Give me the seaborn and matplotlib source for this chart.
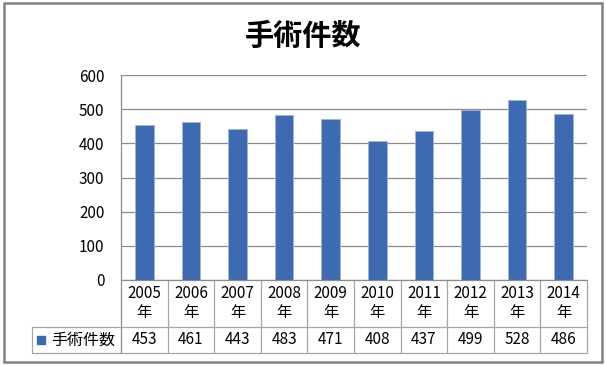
import matplotlib
matplotlib.use("Agg")
import matplotlib.pyplot as plt
import matplotlib.transforms as mtransforms
from matplotlib.patches import Rectangle
import seaborn as sns
import pandas as pd

title = "手術件数"
series_name = "手術件数"
years = ["2005", "2006", "2007", "2008", "2009", "2010", "2011", "2012", "2013", "2014"]
values = [453, 461, 443, 483, 471, 408, 437, 499, 528, 486]
yticks = [0, 100, 200, 300, 400, 500, 600]

sns.set_theme(style="white")
plt.rcParams['font.family'] = ['Noto Sans CJK JP', 'DejaVu Sans']

W, H = 606, 366
fig = plt.figure(figsize=(W / 100, H / 100), dpi=100)
L, R, T, B = 121, 587, 75, 280
ax = fig.add_axes([L / W, 1 - B / H, (R - L) / W, (B - T) / H])

df = pd.DataFrame({"year": [y + "年" for y in years], "count": values})
bar_color = "#3D6AB0"
sns.barplot(data=df, x="year", y="count", color=bar_color, width=0.4,
            saturation=1, ax=ax, edgecolor="#9DB6DA", linewidth=0.6)

ax.set_ylim(0, 600)
ax.set_xlim(-0.5, len(years) - 0.5)
ax.set_yticks(yticks)
ax.set_yticklabels([str(t) for t in yticks], fontsize=11, color="#000000")
ax.tick_params(axis="y", length=0, pad=12)
ax.set_xticks([])
ax.set_xlabel("")
ax.set_ylabel("")
grid_c = "#8C8C8C"
ax.yaxis.grid(True, color=grid_c, linewidth=0.9)
ax.set_axisbelow(True)
for s in ["top", "right", "bottom"]:
    ax.spines[s].set_visible(False)
ax.spines["left"].set_color(grid_c)
ax.spines["left"].set_linewidth(0.9)

# data table beneath the axis
px = 1.0 / (B - T)
y_row1 = -(327 - B) * px
y_row2 = -(353 - B) * px
y_head = -(303 - B) * px
y_val = -(340 - B) * px
blend = mtransforms.blended_transform_factory(ax.transData, ax.transAxes)
tab_c = "#A6A6A6"
n = len(years)
for k in range(n + 1):
    xb = k - 0.5
    ax.plot([xb, xb], [0, y_row2], transform=blend, color=tab_c if k > 0 else grid_c,
            lw=0.9, clip_on=False)
x_leg = (32 - L) / (R - L)
for yy in [y_row1, y_row2]:
    ax.plot([x_leg, 1], [yy, yy], transform=ax.transAxes, color=tab_c, lw=0.9, clip_on=False)
ax.plot([0, 1], [0, 0], transform=ax.transAxes, color=grid_c, lw=0.9, clip_on=False)
ax.plot([x_leg, x_leg], [y_row1, y_row2], transform=ax.transAxes, color=tab_c, lw=0.9, clip_on=False)

for i, (yr, v) in enumerate(zip(years, values)):
    ax.text(i, y_head, yr + "\n年", transform=blend, ha="center", va="center",
            fontsize=11, linespacing=1.2, color="#000000")
    ax.text(i, y_val, str(v), transform=blend, ha="center", va="center",
            fontsize=11, color="#000000")

# legend cell
ax.add_patch(Rectangle(((37 - L) / (R - L), y_val - 4 * px), 8 / (R - L), 8 * px,
                       transform=ax.transAxes, color=bar_color, clip_on=False))
ax.text((51 - L) / (R - L), y_val, series_name, transform=ax.transAxes,
        ha="left", va="center", fontsize=11.5, color="#000000")

fig.text(0.5, 1 - 36 / H, title, ha="center", va="center", fontsize=21,
         fontweight="bold", color="#000000")

fig.patches.append(Rectangle((3.5 / W, 1 - 361.5 / H), 598.5 / W, 358.5 / H, transform=fig.transFigure,
                             fill=False, edgecolor="#808080", linewidth=1.8))

fig.savefig("out.png", dpi=100)
